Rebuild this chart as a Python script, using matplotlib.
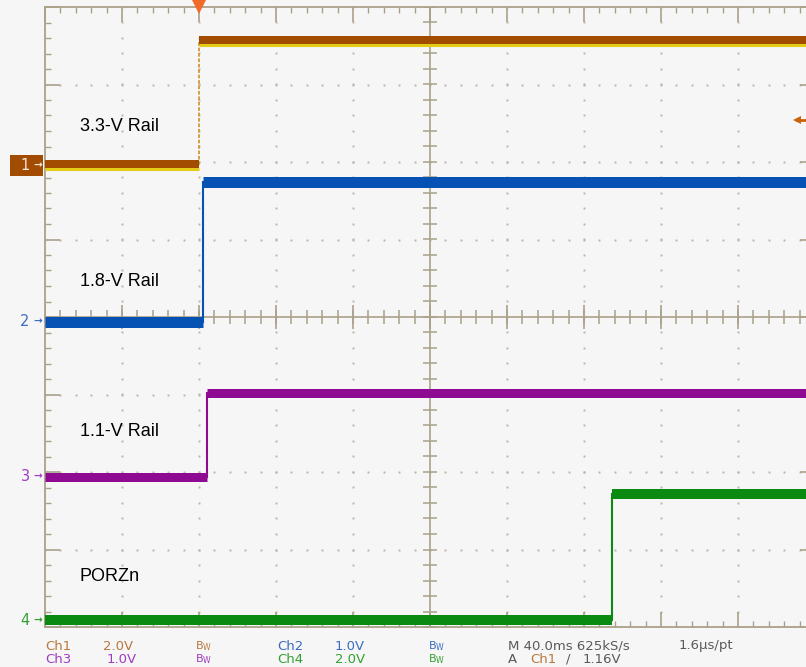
import numpy as np
import matplotlib
matplotlib.use("Agg")
import matplotlib.pyplot as plt
from matplotlib.patches import Rectangle
from matplotlib.transforms import IdentityTransform
from matplotlib.ticker import MultipleLocator

# ---------------- data (read from the scope capture) ----------------
channels = ["Ch1", "Ch2", "Ch3", "Ch4"]
channel_numbers = ["1", "2", "3", "4"]
rail_labels = ["3.3-V Rail", "1.8-V Rail", "1.1-V Rail", "PORZn"]
volts_per_div = [2.0, 1.0, 1.0, 2.0]
ground_div = [1.96, -0.06, -2.06, -3.91]     # channel ground marker positions (div)
low_volts = [0.0, 0.0, 0.0, 0.0]
high_volts = [3.2, 1.8, 1.08, 3.24]
step_time_ms = [0.0, 2.1, 4.2, 214.5]
trigger_level_v = 1.16
time_per_div_ms = 40.0
trigger_pos_div = 2.0
scale_texts = ["2.0V", "1.0V", "1.0V", "2.0V"]

# ---------------- style ----------------
bg = "#f6f6f6"
grat = "#aaa18a"
dotc = "#bdb6a6"
trace_colors = ["#a24c02", "#0652b4", "#8e0a92", "#0b8a12"]
band_px = [8, 11, 9, 10]
text_colors = ["#b8783e", "#3b6cc2", "#a03cc0", "#34a034"]
gray_txt = "#5a5a5a"

W, H, DPI = 806, 667, 100
fig = plt.figure(figsize=(W / DPI, H / DPI), dpi=DPI, facecolor=bg)
gx0, gy_top, gy_bot = 45, 7, 627
div_px_x = 77.0
ax = fig.add_axes([gx0 / W, (H - gy_bot) / H, 10 * div_px_x / W, (gy_bot - gy_top) / H])
ax.set_facecolor(bg)
t0 = -trigger_pos_div * time_per_div_ms
t1 = t0 + 10 * time_per_div_ms
ax.set_xlim(t0, t1)
ax.set_ylim(-4, 4)

# graticule frame and ticks
for s in ["left", "top", "bottom", "right"]:
    ax.spines[s].set_color(grat)
    ax.spines[s].set_linewidth(1.3)
ax.xaxis.set_major_locator(MultipleLocator(time_per_div_ms))
ax.xaxis.set_minor_locator(MultipleLocator(time_per_div_ms / 5))
ax.yaxis.set_major_locator(MultipleLocator(1))
ax.yaxis.set_minor_locator(MultipleLocator(0.2))
ax.tick_params(which="both", direction="in", top=True, bottom=True, left=True, right=True,
               labelbottom=False, labelleft=False, color=grat)
ax.tick_params(which="major", length=10.8, width=1.2)
ax.tick_params(which="minor", length=4.6, width=1.0)

# dotted grid
for xi in range(1, 10):
    if xi == 5:
        continue
    ys = np.arange(-4, 4.001, 0.2)
    ax.plot(np.full_like(ys, t0 + xi * time_per_div_ms), ys, ls="none", marker="s",
            ms=1.4, mew=0, color=dotc, zorder=1)
for yi in range(-3, 4):
    if yi == 0:
        continue
    xs = t0 + np.arange(0, 10.001, 0.2) * time_per_div_ms
    ax.plot(xs, np.full_like(xs, yi), ls="none", marker="s", ms=1.4, mew=0, color=dotc, zorder=1)

# center cross with ticks
tc = t0 + 5 * time_per_div_ms
ax.axvline(tc, color=grat, lw=1.2, zorder=1)
ax.axhline(0, color=grat, lw=1.2, zorder=1)
xs_minor = t0 + np.arange(0, 10.001, 0.2) * time_per_div_ms
xs_major = t0 + np.arange(0, 11) * time_per_div_ms
ax.plot(xs_minor, np.zeros_like(xs_minor), ls="none", marker="|", ms=9.5, mew=1.1, color=grat, zorder=1)
ax.plot(xs_major, np.zeros_like(xs_major), ls="none", marker="|", ms=17, mew=1.2, color=grat, zorder=1)
ys_minor = np.arange(-4, 4.001, 0.2)
ax.plot(np.full_like(ys_minor, tc), ys_minor, ls="none", marker="_", ms=9.5, mew=1.1, color=grat, zorder=1)

# traces
for i in range(4):
    g = ground_div[i]
    lo = g + low_volts[i] / volts_per_div[i]
    hi = g + high_volts[i] / volts_per_div[i]
    ts = step_time_ms[i]
    lw = band_px[i] * 0.72
    c = trace_colors[i]
    if i == 0:
        ax.plot([t0, ts], [lo - 0.055, lo - 0.055], color="#e2cc18", lw=2.2, solid_capstyle="butt", zorder=3)
        ax.plot([ts, t1], [hi - 0.055, hi - 0.055], color="#e2cc18", lw=2.2, solid_capstyle="butt", zorder=3)
        ax.plot([t0, ts], [lo + 0.01, lo + 0.01], color=c, lw=lw, solid_capstyle="butt", zorder=4)
        ax.plot([ts, t1], [hi + 0.01, hi + 0.01], color=c, lw=lw, solid_capstyle="butt", zorder=4)
        ax.plot([ts, ts], [lo, hi], color="#cf9a35", lw=1.3, ls=(0, (2, 1)), zorder=3)
    else:
        ax.plot([t0, ts], [lo, lo], color=c, lw=lw, solid_capstyle="butt", zorder=3)
        ax.plot([ts, t1], [hi, hi], color=c, lw=lw, solid_capstyle="butt", zorder=3)
        ax.plot([ts, ts], [lo, hi], color=c, lw=1.5, zorder=3)

# rail labels
label_y_div = [2.46, 0.46, -1.48, -3.35]
for i in range(4):
    ax.text(t0 + 0.45 * time_per_div_ms, label_y_div[i], rail_labels[i], fontsize=13,
            family="Liberation Sans", color="black", va="center", ha="left", zorder=5)

# trigger position marker (top) and trigger level marker (right)
ax.plot([step_time_ms[0]], [4], marker="v", ms=10, color="#f26a2a", mew=0, clip_on=False, zorder=6)
trig_y = ground_div[0] + trigger_level_v / volts_per_div[0]
trig_x = t0 + (797 - gx0) / div_px_x * time_per_div_ms
ax.plot([trig_x], [trig_y], marker="<", ms=6, color="#c8640c", mew=0, zorder=6)
ax.plot([trig_x, t0 + (806 - gx0) / div_px_x * time_per_div_ms], [trig_y, trig_y],
        color="#c8640c", lw=2, zorder=6)

# channel ground markers on the left
for i in range(4):
    yc = ax.transData.transform((t0, ground_div[i]))[1]
    if i == 0:
        fig.add_artist(Rectangle((10, yc - 10.5), 33, 21, transform=IdentityTransform(),
                                 fc=trace_colors[0], ec="none"))
        tcol = "#f4e6d8"
    else:
        tcol = text_colors[i]
    fig.text(25 / W, yc / H, channel_numbers[i], color=tcol, fontsize=10.5,
             ha="center", va="center", family="DejaVu Sans")
    fig.text(37.5 / W, yc / H, "\u2192", color=tcol, fontsize=7.5, ha="center", va="center",
             family="DejaVu Sans", fontweight="bold")

# bottom status text
row_y = [1 - 646 / H, 1 - 659.5 / H]
fs = 9.5
def t(x, y, s, c, size=fs):
    fig.text(x / W, y, s, color=c, fontsize=size, ha="left", va="center", family="DejaVu Sans")

bw = r"$\mathregular{B_W}$"
t(45, row_y[0], channels[0], text_colors[0])
t(103, row_y[0], scale_texts[0], text_colors[0])
t(195, row_y[0], bw, text_colors[0], 8)
t(277, row_y[0], channels[1], text_colors[1])
t(335, row_y[0], scale_texts[1], text_colors[1])
t(428, row_y[0], bw, text_colors[1], 8)
t(508, row_y[0], "M 40.0ms 625kS/s", gray_txt)
t(679, row_y[0], "1.6\u00b5s/pt", gray_txt)
t(45, row_y[1], channels[2], text_colors[2])
t(107, row_y[1], scale_texts[2], text_colors[2])
t(195, row_y[1], bw, text_colors[2], 8)
t(277, row_y[1], channels[3], text_colors[3])
t(335, row_y[1], scale_texts[3], text_colors[3])
t(428, row_y[1], bw, text_colors[3], 8)
t(508, row_y[1], "A", gray_txt)
t(530, row_y[1], channels[0], text_colors[0])
t(566, row_y[1], "/", gray_txt)
t(583, row_y[1], "%.2fV" % trigger_level_v, gray_txt)

fig.savefig("out.png", dpi=DPI, facecolor=bg)
